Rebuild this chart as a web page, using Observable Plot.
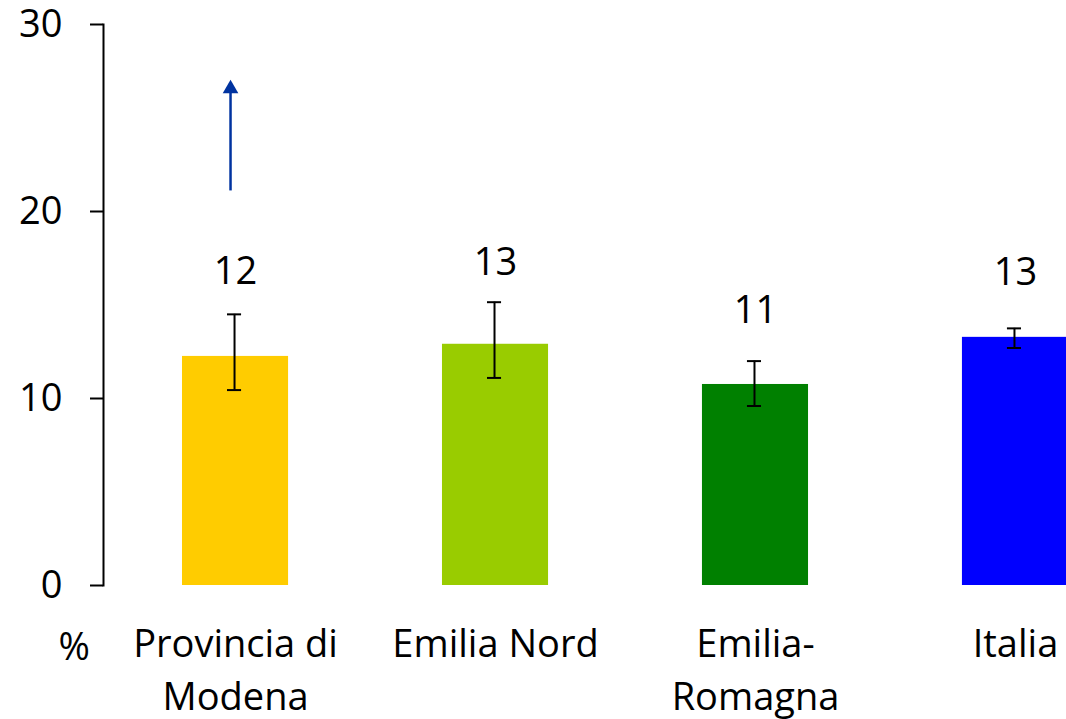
<!DOCTYPE html>
<html>
<head>
<meta charset="utf-8">
<script src="https://cdn.jsdelivr.net/npm/d3@7"></script>
<script src="https://cdn.jsdelivr.net/npm/@observablehq/plot@0.6"></script>
<style>
  html, body { margin: 0; padding: 0; background: #fff; }
</style>
</head>
<body>
<div id="chart"></div>
<script>
// Data
const categories = ["Provincia di Modena", "Emilia Nord", "Emilia-Romagna", "Italia"];
const tickLabels = ["Provincia di\nModena", "Emilia Nord", "Emilia-\nRomagna", "Italia"];
const values = [12.25, 12.9, 10.75, 13.27];
const lower = [10.45, 11.1, 9.6, 12.7];
const upper = [14.5, 15.15, 12.0, 13.75];
const valueLabels = ["12", "13", "11", "13"];
const labelY = [16.8, 17.25, 14.7, 16.7];
const colors = ["#FFCC00", "#99CC00", "#008000", "#0000FF"];
const yTicks = [0, 10, 20, 30];
// trend arrow on the first category
const arrowCategory = ["Provincia di Modena"];
const arrowFrom = [21.1];
const arrowTo = [27.05];

const rows = categories.map((c, i) => ({
  cat: c, value: values[i], lo: lower[i], hi: upper[i],
  label: valueLabels[i], ly: labelY[i], color: colors[i]
}));
const arrows = arrowCategory.map((c, i) => ({cat: c, from: arrowFrom[i], to: arrowTo[i]}));
const tickMap = new Map(categories.map((c, i) => [c, tickLabels[i]]));

const chart = Plot.plot({
  width: 1066,
  height: 719,
  marginLeft: 103,
  marginRight: 0,
  marginTop: 24,
  marginBottom: 134,
  style: {fontFamily: "'Open Sans', sans-serif", fontSize: "38px", color: "#000", background: "#fff", overflow: "visible"},
  x: {domain: categories, range: [104, 1146], paddingInner: 0.592, paddingOuter: 0.3, round: false, label: null},
  y: {domain: [0, 30], label: null},
  marks: [
    Plot.barY(rows, {x: "cat", y: "value", fill: "color"}),
    Plot.ruleX(rows, {x: "cat", y1: "lo", y2: "hi", stroke: "#000", strokeWidth: 2, dx: -1}),
    Plot.tickY(rows, {x: "cat", y: "lo", stroke: "#000", strokeWidth: 2, inset: 46, dx: -1}),
    Plot.tickY(rows, {x: "cat", y: "hi", stroke: "#000", strokeWidth: 2, inset: 46, dx: -1}),
    Plot.text(rows, {x: "cat", y: "ly", text: "label", fill: "#000"}),
    Plot.ruleX(arrows, {x: "cat", y1: "to", y2: "from", stroke: "#0033A0", strokeWidth: 2.5, dx: -5, insetTop: 8}),
    Plot.dot(arrows, {x: "cat", y: "to", symbol: "triangle", r: 5.8, fill: "#0033A0", stroke: "none", dx: -5, dy: 9}),
    Plot.frame({anchor: "left", stroke: "#000", strokeWidth: 2}),
    Plot.axisY({ticks: yTicks, tickSize: 13, tickPadding: 28, strokeWidth: 2, label: null}),
    Plot.axisX({tickSize: 0, tickPadding: 34, lineAnchor: "top", lineHeight: 1.4, tickFormat: d => tickMap.get(d), label: null}),
    Plot.text(["%"], {frameAnchor: "bottom-left", dx: -45, dy: 48, lineAnchor: "top", text: d => d})
  ]
});
document.getElementById("chart").appendChild(chart);
</script>
</body>
</html>
